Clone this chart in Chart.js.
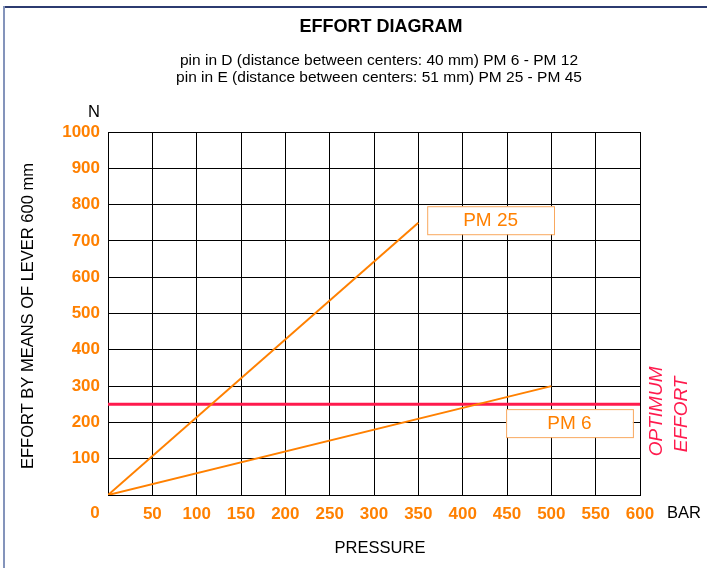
<!DOCTYPE html>
<html>
<head>
<meta charset="utf-8">
<script src="https://cdn.jsdelivr.net/npm/chart.js@4"></script>
<style>
  html, body { margin: 0; padding: 0; background: #fff; }
  #wrap { width: 707px; height: 568px; position: relative; }
</style>
</head>
<body>
<div id="wrap"><canvas id="myChart" width="707" height="568"></canvas></div>
<script>
// Data
const pm25Pressure = [0, 350];
const pm25Effort = [0, 750];
const pm6Pressure = [0, 500];
const pm6Effort = [0, 300];
const optimumPressure = [0, 600];
const optimumEffort = [250, 250];

const titleText = "EFFORT DIAGRAM";
const subtitleLines = [
  "pin in D (distance between centers: 40 mm) PM 6 - PM 12",
  "pin in E (distance between centers: 51 mm) PM 25 - PM 45",
];

const orange = "#ff8000";
const red = "#ff1a4d";
const font = "'Liberation Sans', Arial, sans-serif";

function toPoints(xs, ys) {
  return xs.map((x, i) => ({ x: x, y: ys[i] }));
}

// Draw titles, axis captions, boxed labels and the frame
const extras = {
  id: "extras",
  beforeDraw(chart) {
    const ctx = chart.ctx;
    ctx.save();
    ctx.fillStyle = "#fff";
    ctx.fillRect(0, 0, chart.width, chart.height);
    ctx.lineWidth = 2;
    ctx.strokeStyle = "#2c3b70";
    ctx.beginPath();
    ctx.moveTo(4, 7);
    ctx.lineTo(707, 7);
    ctx.stroke();
    ctx.strokeStyle = "#8494bb";
    ctx.beginPath();
    ctx.moveTo(4, 6);
    ctx.lineTo(4, 568);
    ctx.stroke();
    ctx.restore();
  },
  afterDraw(chart) {
    const ctx = chart.ctx;
    const x = chart.scales.x;
    const y = chart.scales.y;
    ctx.save();
    ctx.textAlign = "center";
    ctx.textBaseline = "middle";

    ctx.fillStyle = "#000";
    ctx.font = "bold 18px " + font;
    ctx.fillText(titleText, 381, 27);
    ctx.font = "15.5px " + font;
    ctx.fillText(subtitleLines[0], 379, 61);
    ctx.fillText(subtitleLines[1], 379, 78);

    ctx.font = "16.5px " + font;
    ctx.fillText("N", 94, 112);
    ctx.fillText("PRESSURE", 380, 548);
    ctx.textAlign = "left";
    ctx.fillText("BAR", 667, 513);

    ctx.save();
    ctx.translate(28, 316);
    ctx.rotate(-Math.PI / 2);
    ctx.textAlign = "center";
    ctx.fillText("EFFORT BY MEANS OF LEVER 600 mm", 0, 0);
    ctx.restore();

    ctx.textAlign = "center";
    ctx.fillStyle = orange;
    ctx.font = "bold 17px " + font;
    ctx.fillText("0", 95, y.getPixelForValue(0) + 18);

    // boxed series labels
    const boxes = [
      { text: "PM 25", x0: 360, x1: 503, y: 757 },
      { text: "PM 6", x0: 449, x1: 592, y: 198 },
    ];
    ctx.font = "19px " + font;
    boxes.forEach((b) => {
      const l = x.getPixelForValue(b.x0);
      const r = x.getPixelForValue(b.x1);
      const cy = y.getPixelForValue(b.y);
      ctx.fillStyle = "#fff";
      ctx.fillRect(l, cy - 14, r - l, 28);
      ctx.strokeStyle = "#f9a85e";
      ctx.lineWidth = 1;
      ctx.strokeRect(l + 0.5, cy - 14 + 0.5, r - l, 28);
      ctx.fillStyle = orange;
      ctx.fillText(b.text, (l + r) / 2, cy + 1);
    });

    // optimum effort caption
    ctx.save();
    ctx.translate(x.right, y.getPixelForValue(250));
    ctx.rotate(-Math.PI / 2);
    ctx.textAlign = "left";
    ctx.fillStyle = red;
    ctx.font = "italic 19px " + font;
    ctx.fillText("OPTIMUM", -52, 17);
    ctx.fillText("EFFORT", -48, 42);
    ctx.restore();

    ctx.restore();
  },
};

const config = {
  type: "scatter",
  data: {
    datasets: [
      {
        label: "PM 25",
        data: toPoints(pm25Pressure, pm25Effort),
        showLine: true,
        borderColor: orange,
        borderWidth: 2,
        pointRadius: 0,
      },
      {
        label: "PM 6",
        data: toPoints(pm6Pressure, pm6Effort),
        showLine: true,
        borderColor: orange,
        borderWidth: 2,
        pointRadius: 0,
      },
      {
        label: "Optimum effort",
        data: toPoints(optimumPressure, optimumEffort),
        showLine: true,
        borderColor: red,
        borderWidth: 3,
        pointRadius: 0,
      },
    ],
  },
  options: {
    responsive: false,
    animation: false,
    layout: {
      padding: { top: 132, right: 67, left: 0, bottom: 0 },
    },
    plugins: {
      legend: { display: false },
      tooltip: { enabled: false },
    },
    scales: {
      x: {
        type: "linear",
        min: 0,
        max: 600,
        ticks: {
          stepSize: 50,
          padding: 9,
          color: orange,
          font: { family: font, size: 17, weight: "bold" },
          callback: (v) => (v === 0 ? "" : v),
        },
        grid: { color: "#000", lineWidth: 1, drawTicks: false },
        border: { color: "#000", width: 1 },
        afterFit: (scale) => {
          scale.height = 73;
        },
      },
      y: {
        min: 0,
        max: 1000,
        ticks: {
          stepSize: 100,
          padding: 8,
          color: orange,
          font: { family: font, size: 17, weight: "bold" },
          callback: (v) => (v === 0 ? "" : v),
        },
        grid: { color: "#000", lineWidth: 1, drawTicks: false },
        border: { color: "#000", width: 1 },
        afterFit: (scale) => {
          scale.width = 108;
        },
      },
    },
  },
  plugins: [extras],
};

new Chart(document.querySelector("#myChart"), config);
</script>
</body>
</html>
